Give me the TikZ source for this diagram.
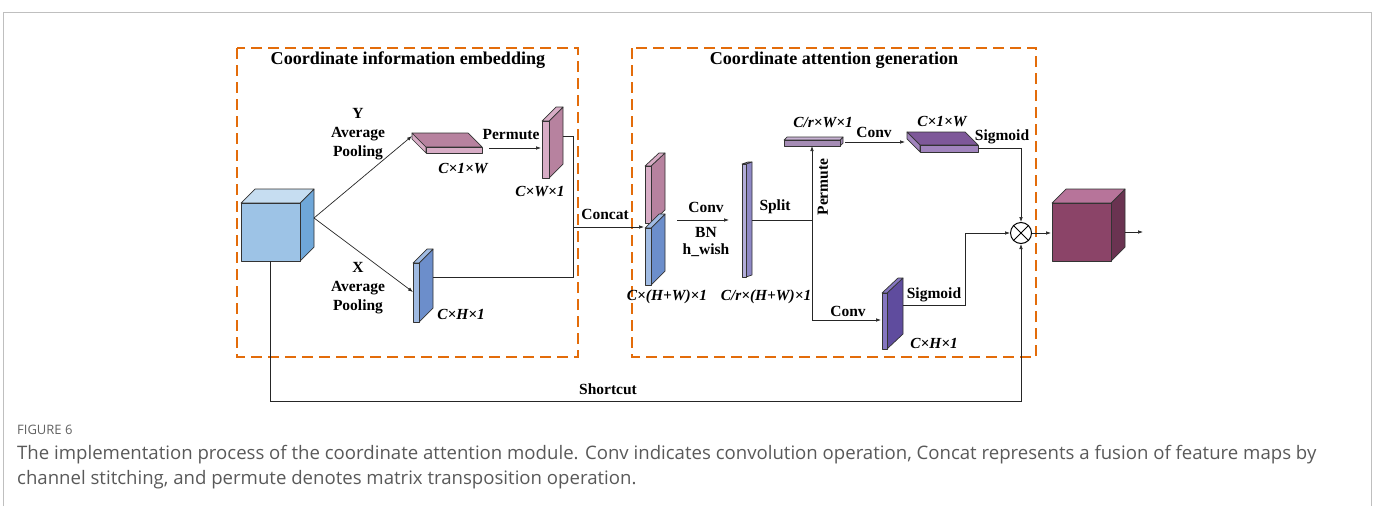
\documentclass[tikz,border=0pt]{standalone}
\usepackage{fontspec}
\setmainfont{Liberation Serif}
\newfontfamily\capfont{Open Sans}
\usetikzlibrary{arrows.meta,calc}

\definecolor{regionorange}{HTML}{E36C0A}
\definecolor{edgegray}{HTML}{333333}
% input cube
\definecolor{inFront}{HTML}{9DC3E6}
\definecolor{inTop}{HTML}{C6DDF1}
\definecolor{inSide}{HTML}{6FA7D9}
% mauve (height-pooled) maps
\definecolor{mauve}{HTML}{B7829F}
\definecolor{mauveLight}{HTML}{D8ADC6}
% blue (width-pooled) maps
\definecolor{blueMap}{HTML}{6C8ECB}
\definecolor{blueLight}{HTML}{A0BBE3}
% lavender shared map
\definecolor{lav}{HTML}{8F89C6}
\definecolor{lavLight}{HTML}{B3AEDB}
% reduced map
\definecolor{redFront}{HTML}{A58CB5}
\definecolor{redTop}{HTML}{C8B3D3}
% attention weights
\definecolor{purpW}{HTML}{7E5899}
\definecolor{purpWLight}{HTML}{A184BD}
\definecolor{purpH}{HTML}{5F4C9E}
\definecolor{purpHLight}{HTML}{8576C0}
% output cube
\definecolor{outFront}{HTML}{8B4468}
\definecolor{outTop}{HTML}{B7749A}
\definecolor{outSide}{HTML}{6A3351}

% cuboid with its side face on the right: x1 y1 x2 y2 (front face), dx dy (depth), fills front/top/side
\newcommand\cuboidR[9]{%
  \filldraw[boxline,fill=#9] (#3,#2) -- ++(#5,#6) -- ([shift={(#5,#6)}]#3,#4) -- (#3,#4) -- cycle;
  \filldraw[boxline,fill=#8] (#1,#2) -- ++(#5,#6) -- ([shift={(#5,#6)}]#3,#2) -- (#3,#2) -- cycle;
  \filldraw[boxline,fill=#7] (#1,#2) rectangle (#3,#4);
}
% cuboid with its side face on the left
\newcommand\cuboidL[9]{%
  \filldraw[boxline,fill=#9] (#1,#2) -- ++(#5,#6) -- ([shift={(#5,#6)}]#1,#4) -- (#1,#4) -- cycle;
  \filldraw[boxline,fill=#8] (#1,#2) -- ++(#5,#6) -- ([shift={(#5,#6)}]#3,#2) -- (#3,#2) -- cycle;
  \filldraw[boxline,fill=#7] (#1,#2) rectangle (#3,#4);
}

\begin{document}
\begin{tikzpicture}[x=1pt,y=-1pt,
  boxline/.style={draw=edgegray,line width=0.7pt,line join=round},
  conn/.style={draw=black!85,line width=0.7pt},
  arr/.style={conn,-{Latex[length=5pt,width=3.6pt]}},
  lbl/.style={font=\bfseries\fontsize{15.5}{19}\selectfont,inner sep=0,align=center},
  dim/.style={font=\bfseries\itshape\fontsize{15.4}{17}\selectfont,inner sep=0},
  heading/.style={font=\bfseries\fontsize{18.1}{21}\selectfont,inner sep=0},
  region/.style={draw=regionorange,line width=1.4pt,dash pattern=on 11pt off 6pt}]
\useasboundingbox (0,0) rectangle (1375,506);

% page frame
\draw[black!25,line width=1pt] (3,506) -- (3,12) -- (1371,12) -- (1371,506);

% the two stages
\draw[region] (237,48) rectangle (578,357);
\draw[region] (632,48) rectangle (1036,357);
\node[heading] (t1) at (408,60) {Coordinate information embedding};
\node[heading] (t2) at (834,60) {Coordinate attention generation};

% feature maps
\cuboidR{241}{203}{300}{261}{14}{-14}{inFront}{inTop}{inSide}
\cuboidL{426}{147}{482}{153}{-14}{-14}{mauveLight}{mauve}{mauveLight}
\cuboidR{542}{121}{549}{178}{14}{-14}{mauveLight}{mauveLight}{mauve}
\cuboidR{413}{263}{419}{322}{14}{-14}{blueLight}{blueLight}{blueMap}
\cuboidR{645}{166}{651}{223}{14}{-13}{mauveLight}{mauveLight}{mauve}
\cuboidR{645}{228}{651}{285}{14}{-14}{blueLight}{blueLight}{blueMap}
\cuboidR{742}{164}{746}{277}{6}{-2}{lavLight}{lavLight}{lav}
\cuboidR{784}{140}{840}{146}{3}{-3}{redFront}{redTop}{redFront}
\cuboidL{920}{145}{978}{152}{-13}{-13}{purpWLight}{purpW}{purpWLight}
\cuboidR{882}{293}{887}{349}{16}{-15}{purpHLight}{purpHLight}{purpH}
\cuboidR{1052}{203}{1111}{261}{14}{-14}{outFront}{outTop}{outSide}

% multiplication node
\node[circle,draw=black,line width=1pt,minimum size=21pt,inner sep=0] (mul) at (1021,233) {};
\draw[black,line width=1pt] (mul.45) -- (mul.225) (mul.135) -- (mul.315);

% connection points on the maps
\coordinate (inMid) at (314,218);
\coordinate (inBot) at (270,261);
\coordinate (yIn) at (412,136);
\coordinate (yOut) at (489,148);
\coordinate (pIn) at (541,148);
\coordinate (pOut) at (563,136);
\coordinate (pTurn) at (573,136);
\coordinate (xIn) at (413,292);
\coordinate (xOut) at (433,277);
\coordinate (xTurn) at (573,277);
\coordinate (join) at (573,227);
\coordinate (cIn) at (644,227);
\coordinate (convA) at (677,220);
\coordinate (convB) at (729,220);
\coordinate (sOut) at (752,220);
\coordinate (fork) at (812,220);
\coordinate (rIn) at (812,146);
\coordinate (hIn) at (881,320);
\coordinate (rOut) at (845,142);
\coordinate (wIn) at (905,142);
\coordinate (wOut) at (978,148);
\coordinate (hOut) at (903,305);
\coordinate (hTurn) at (965,305);
\coordinate (scTurn) at (270,401);
\coordinate (oIn) at (1051,233);
\coordinate (oOut) at (1125,232);
\coordinate (oEnd) at (1143,232);

% connectors
\draw[arr] (inMid) -- (yIn);
\draw[arr] (inMid) -- (xIn);
\draw[arr] (yOut) -- (pIn);
\draw[conn] (pOut) -- (pTurn) -- (join);
\draw[conn] (xOut) -- (xTurn) -- (join);
\draw[arr] (join) -- (cIn);
\draw[arr] (convA) -- (convB);
\draw[conn] (sOut) -- (fork);
\draw[arr] (fork) -- (rIn);
\draw[arr] (fork) |- (hIn);
\draw[arr] (rOut) -- (wIn);
\draw[arr] (wOut) -| (mul.north);
\draw[arr] (hOut) -- (hTurn) |- (mul.west);
\draw[arr] (inBot) -- (scTurn) -| (mul.south);
\draw[arr] (mul.east) -- (oIn);
\draw[arr] (oOut) -- (oEnd);

% operation labels
\node[lbl] (yPool) at (358,134) {Y\\Average\\Pooling};
\node[lbl] (xPool) at (358,288) {X\\Average\\Pooling};
\node[lbl] (perm1) at (511,135) {Permute};
\node[lbl] (concat) at (605,214) {Concat};
\node[lbl] (conv1) at (706,207) {Conv};
\node[lbl] (bn) at (706,232) {BN};
\node[lbl] (hw) at (706,250) {h\_wish};
\node[lbl] (split) at (775,207) {Split};
\node[lbl,rotate=90] (perm2) at (823,187) {Permute};
\node[lbl] (conv2) at (874,132) {Conv};
\node[lbl] (conv3) at (848,311) {Conv};
\node[lbl] (sig1) at (1002,137) {Sigmoid};
\node[lbl] (sig2) at (934,295) {Sigmoid};
\node[lbl] (short) at (608,389) {Shortcut};

% tensor shapes
\node[dim] (d1) at (463,169) {C×1×W};
\node[dim] (d2) at (540,192) {C×W×1};
\node[dim] (d3) at (461,314) {C×H×1};
\node[dim] (d4) at (667,297) {C×(H+W)×1};
\node[dim] (d5) at (766,297) {C/r×(H+W)×1};
\node[dim] (d6) at (823,123) {C/r×W×1};
\node[dim] (d7) at (942,122) {C×1×W};
\node[dim] (d8) at (934,343) {C×H×1};

% caption
\node[anchor=west,inner sep=0,font=\capfont\fontsize{13}{15}\selectfont,text=black!62] (figno) at (17,430) {FIGURE 6};
\node[anchor=west,inner sep=0,font=\capfont\fontsize{18.6}{22}\selectfont,text=black!65] (cap1) at (17,455) {The implementation process of the coordinate attention module. Conv indicates convolution operation, Concat represents a fusion of feature maps by};
\node[anchor=west,inner sep=0,font=\capfont\fontsize{18.6}{22}\selectfont,text=black!65] (cap2) at (17,480) {channel stitching, and permute denotes matrix transposition operation.};
\end{tikzpicture}
\end{document}
